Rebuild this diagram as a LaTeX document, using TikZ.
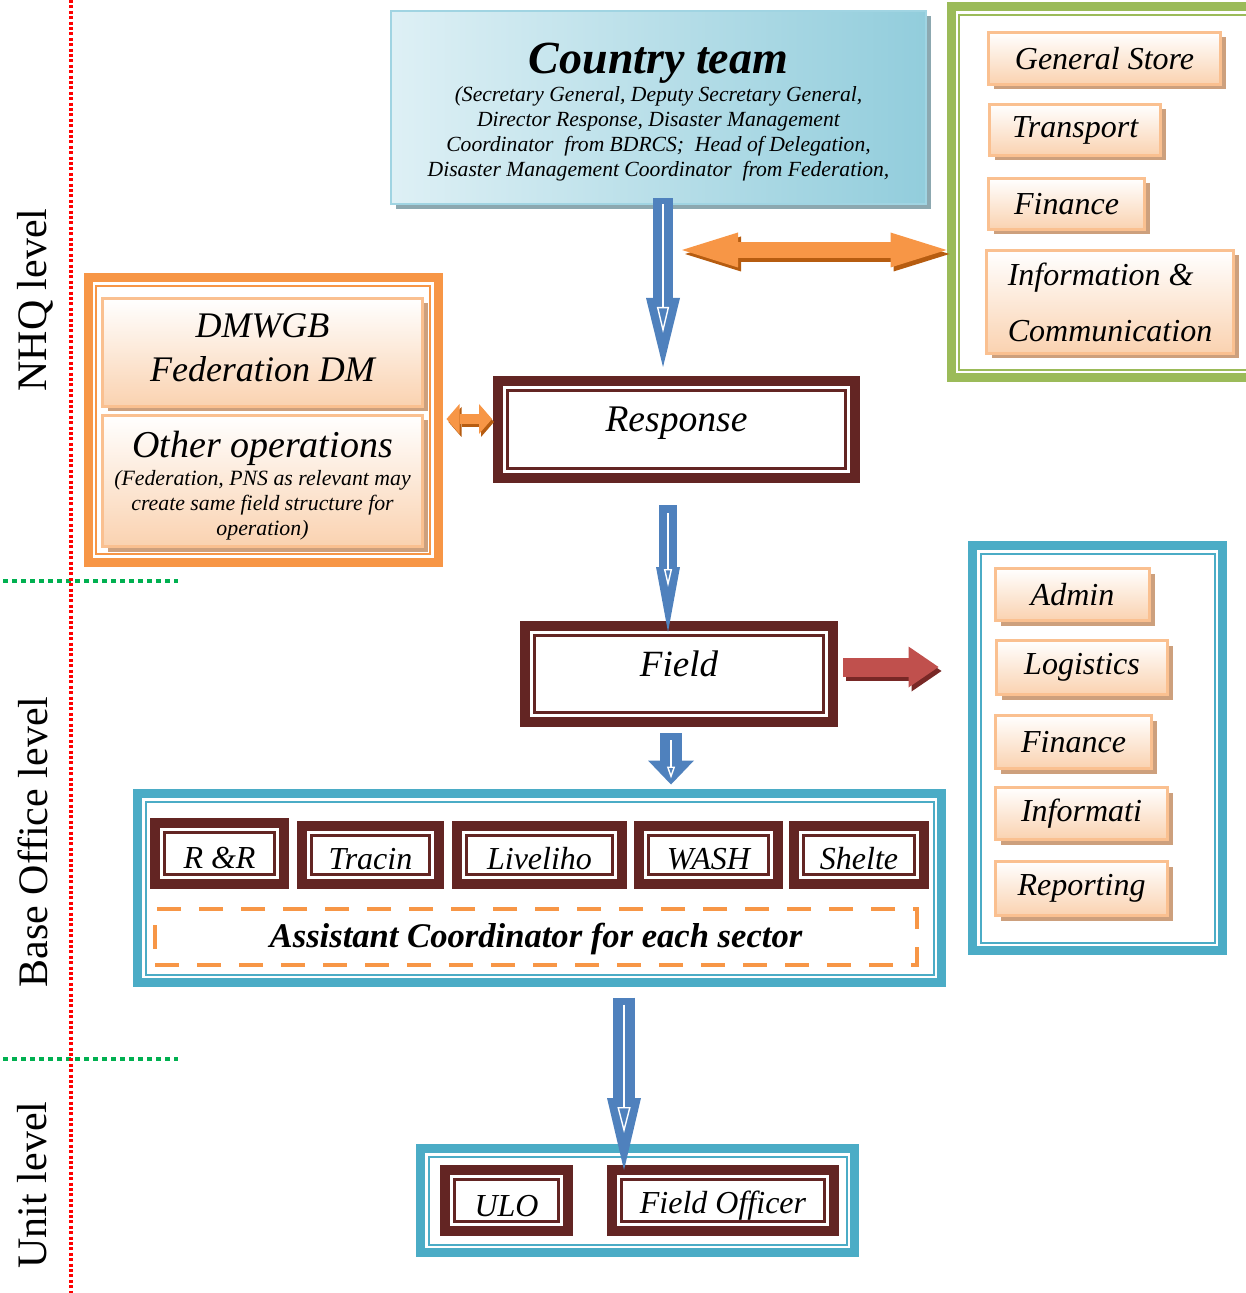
\documentclass[tikz,border=0pt]{standalone}
\usepackage{fontspec}
\setmainfont{Liberation Serif}
\usetikzlibrary{arrows.meta,shadows}

\definecolor{boxred}{RGB}{99,37,35}
\definecolor{frameblue}{RGB}{75,172,198}
\definecolor{framegreen}{RGB}{155,187,89}
\definecolor{frameorange}{RGB}{247,150,70}
\definecolor{peachline}{RGB}{250,192,144}
\definecolor{peachfill}{RGB}{250,210,176}
\definecolor{peachshade}{RGB}{205,160,125}
\definecolor{ctlight}{RGB}{222,240,245}
\definecolor{ctdark}{RGB}{146,205,220}
\definecolor{ctline}{RGB}{160,212,226}
\definecolor{ctshade}{RGB}{140,168,176}
\definecolor{arrowblue}{RGB}{79,129,189}
\definecolor{arroworange}{RGB}{247,150,70}
\definecolor{orangeshade}{RGB}{182,92,16}
\definecolor{arrowred}{RGB}{192,80,77}
\definecolor{redshade}{RGB}{120,40,38}
\definecolor{levelgreen}{RGB}{0,176,80}

\tikzset{
  wh/.style 2 args={minimum width=#1*0.5pt, minimum height=#2*0.5pt},
  levellabel/.style={rotate=90, font=\fontsize{21}{24}\selectfont},
  outerframe/.style={draw=#1, line width=4.5pt, fill=white,
    path picture={\draw[#1, line width=1pt] ([shift={(4pt,4pt)}]path picture bounding box.south west) rectangle ([shift={(-4pt,-4pt)}]path picture bounding box.north east);}},
  peach/.style={draw=peachline, line width=1.5pt, top color=white, bottom color=peachfill,
    drop shadow={shadow xshift=2.5pt, shadow yshift=-2.5pt, fill=peachshade, opacity=1},
    font=\itshape\fontsize{16}{19}\selectfont},
  redbox/.style={draw=boxred, line width=5pt, fill=white, font=\itshape\fontsize{16}{19}\selectfont,
    path picture={\draw[boxred, line width=1.5pt] ([shift={(4.75pt,4.75pt)}]path picture bounding box.south west) rectangle ([shift={(-4.75pt,-4.75pt)}]path picture bounding box.north east);}},
  fat/.style n args={4}{draw=#1, line width=#2, -{Triangle[length=#3, width=#4, line width=0pt]}},
  innerline/.style 2 args={draw=white, line width=.7pt, -{Triangle[open, length=#1, width=#2]}},
  dbl/.style n args={4}{draw=#1, line width=#2,
    {Triangle[length=#3, width=#4, line width=0pt]}-{Triangle[length=#3, width=#4, line width=0pt]}}
}

\begin{document}
\begin{tikzpicture}[x=0.5pt, y=-0.5pt]
    \useasboundingbox (0,0) rectangle (1245,1293);
    % levels
    \draw[levelgreen, line width=2pt, dash pattern=on 2.5pt off 2pt] (3,581) -- (178,581);
    \draw[levelgreen, line width=2pt, dash pattern=on 2.5pt off 2pt] (3,1059) -- (178,1059);
    \draw[red, line width=2.2pt, dash pattern=on 1.5pt off 1.2pt] (71,0) -- (71,1293);
    \node[levellabel] (nhq) at (35,300) {NHQ level};
    \node[levellabel] (base) at (33,842) {Base Office level};
    \node[levellabel] (unit) at (32,1185) {Unit level};

    % country team
    \node[draw=ctline, line width=1.2pt, left color=ctlight, right color=ctdark,
      drop shadow={shadow xshift=2.5pt, shadow yshift=-2.5pt, fill=ctshade, opacity=1},
      wh={535}{193}, align=center, font=\itshape\fontsize{10.8}{12.65}\selectfont] (ct) at (658.5,107.5)
      {\rule{0pt}{20pt}{\bfseries\fontsize{23}{24}\selectfont Country team}\\[1.2pt]
       (Secretary General, Deputy Secretary General,\\
       Director Response, Disaster Management\\
       Coordinator\ \ from BDRCS;\ \ Head of Delegation,\\
       Disaster Management Coordinator\ \ from Federation,};

    % store, transport, finance
    \node[outerframe=framegreen, wh={314}{371}] (store) at (1108,192.5) {};
    \node[peach, wh={232}{52}] (gs) at (1104.5,58.5) {General Store};
    \node[peach, wh={171}{51}] (tr) at (1075,130) {Transport};
    \node[peach, wh={156}{51}] (fin) at (1066.5,204) {Finance};
    \node[peach, wh={247}{103}, align=left, font=\itshape\fontsize{16}{28}\selectfont] (ic) at (1110,302)
      {Information \&\\Communication};

    % other operations
    \node[outerframe=frameorange, wh={350}{284}] (ops) at (263,420) {};
    \node[peach, wh={320}{108}, align=center, font=\itshape\fontsize{18}{22}\selectfont] (dm) at (262.5,352.5)
      {DMWGB\\Federation DM\rule[-5pt]{0pt}{1pt}};
    \node[peach, wh={320}{131}, align=center, font=\itshape\fontsize{10.9}{12.5}\selectfont] (oo) at (262.5,481)
      {\rule{0pt}{17.5pt}{\fontsize{19}{21}\selectfont Other operations}\\[1.5pt]
       (Federation, PNS as relevant may\\create same field structure for\\operation)};

    % response and field
    \node[redbox, wh={357}{97}, font=\itshape\fontsize{18.8}{22}\selectfont, text depth=10.5pt] (resp) at (676.5,429.5) {Response};
    \node[redbox, wh={308}{96}, font=\itshape\fontsize{18.5}{22}\selectfont, text depth=10.5pt] (field) at (679,674) {Field};

    % support units
    \node[outerframe=frameblue, wh={250}{405}] (support) at (1097.5,748) {};
    \node[peach, wh={154}{52}] (admin) at (1072.5,594.5) {Admin};
    \node[peach, wh={171}{54}] (logi) at (1082,667.5) {Logistics};
    \node[peach, wh={156}{53}] (fin2) at (1073.5,742) {Finance};
    \node[peach, wh={172}{52}] (info) at (1081.5,813.5) {Informati};
    \node[peach, wh={172}{54}] (rep) at (1081.5,888.5) {Reporting};

    % sectors
    \node[outerframe=frameblue, wh={804}{189}] (sector) at (539.5,888) {};
    \node[redbox, wh={129}{61}, text height=15pt] (rr) at (219.5,853.5) {R \&R};
    \node[redbox, wh={137}{58}, text height=15pt] (trc) at (370.5,855) {Tracin};
    \node[redbox, wh={165}{58}, text height=15pt] (liv) at (539.5,855) {Liveliho};
    \node[redbox, wh={139}{58}, text height=15pt] (wash) at (708.5,855) {WASH};
    \node[redbox, wh={130}{58}, text height=15pt] (shel) at (859,855) {Shelte};
    \node[draw=frameorange, line width=2pt, dash pattern=on 12pt off 9pt, wh={762}{56}, text height=14pt,
      font=\bfseries\itshape\fontsize{17.3}{19}\selectfont] (asst) at (536,937) {Assistant Coordinator for each sector};

    % unit
    \node[outerframe=frameblue, wh={434}{104}] (unitbox) at (637.5,1200.5) {};
    \node[redbox, wh={123}{61}, text height=16pt] (ulo) at (506.5,1200.5) {ULO};
    \node[redbox, wh={222}{61}, text height=16pt] (fo) at (723,1200.5) {Field Officer};

    % blue arrows
    \coordinate (a1) at ([xshift=2.25pt,yshift=3.5pt]ct.south);
    \draw[fat={arrowblue}{10pt}{34.5pt}{17pt}, shorten >=4.5pt] (a1) -- (a1 |- resp.north);
    \draw[innerline={13pt}{6pt}, shorten <=3pt, shorten >=21.5pt] (a1) -- (a1 |- resp.north);
    \coordinate (a2) at ([xshift=-4.25pt,yshift=-11pt]resp.south);
    \draw[fat={arrowblue}{9pt}{32.5pt}{12pt}, shorten >=-5.5pt] (a2) -- (a2 |- field.north);
    \draw[innerline={9pt}{4pt}, shorten <=4pt, shorten >=17pt] (a2) -- (a2 |- field.north);
    \coordinate (a3) at ([xshift=-4pt,yshift=-3pt]field.south);
    \draw[fat={arrowblue}{11pt}{12pt}{23pt}, shorten >=2.25pt] (a3) -- (a3 |- sector.north);
    \draw[innerline={6pt}{4pt}, shorten <=3.5pt, shorten >=5.25pt] (a3) -- (a3 |- sector.north);
    \coordinate (a4) at ([xshift=42.25pt,yshift=-5.25pt]sector.south);
    \draw[fat={arrowblue}{11pt}{36pt}{17pt}, shorten >=-2.5pt] (a4) -- (a4 |- fo.north);
    \draw[innerline={13pt}{6.5pt}, shorten <=3.5pt, shorten >=16pt] (a4) -- (a4 |- fo.north);

    % orange arrows
    \coordinate (oa) at (682,250);
    \draw[dbl={orangeshade}{8pt}{28pt}{17.5pt}, transform canvas={shift={(1.5pt,-2pt)}}] (oa) -- (oa -| store.west);
    \draw[dbl={arroworange}{8pt}{28pt}{17.5pt}] (oa) -- (oa -| store.west);
    \coordinate (ob) at ([yshift=0.5pt]ops.east);
    \draw[dbl={orangeshade}{5pt}{6.5pt}{15pt}, shorten <=2pt, shorten >=0.5pt, transform canvas={shift={(1pt,-1.5pt)}}] (ob) -- (ob -| resp.west);
    \draw[dbl={arroworange}{5pt}{6.5pt}{15pt}, shorten <=2pt, shorten >=0.5pt] (ob) -- (ob -| resp.west);

    % red arrow
    \coordinate (rf) at ([yshift=3.5pt]field.east);
    \draw[fat={redshade}{9.5pt}{15pt}{20.5pt}, shorten <=2.5pt, shorten >=14.75pt, transform canvas={shift={(1.5pt,-2pt)}}] (rf) -- (rf -| support.west);
    \draw[fat={arrowred}{9.5pt}{15pt}{20.5pt}, shorten <=2.5pt, shorten >=14.75pt] (rf) -- (rf -| support.west);
\end{tikzpicture}
\end{document}
